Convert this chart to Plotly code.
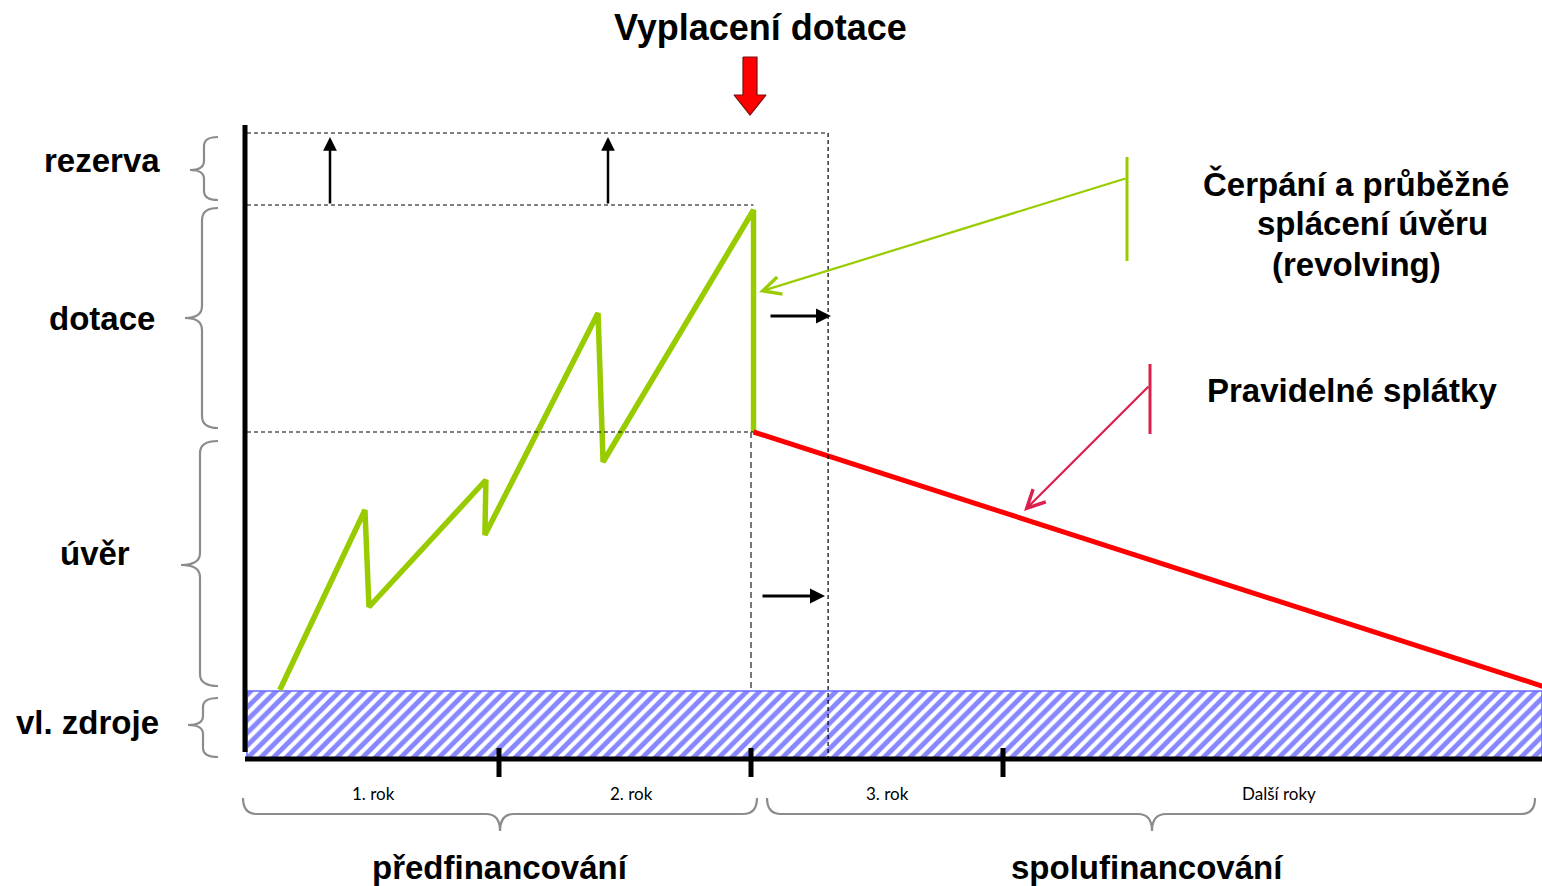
import plotly.graph_objects as go

# ---------------- data (time in years, amount in arbitrary units) ----------------
LEVEL_NAMES = ["vl. zdroje", "úvěr", "dotace", "rezerva"]
LEVEL_TOPS = [6.7, 32.6, 55.3, 62.5]          # cumulative top of each funding layer
YEAR_TICKS = [1, 2, 3]
YEAR_LABELS = ["1. rok", "2. rok", "3. rok", "Další roky"]
YEAR_LABEL_T = [0.5, 1.526, 2.540, 4.095]
PHASE_LABELS = ["předfinancování", "spolufinancování"]
T_PAYOUT = 2.01                               # payout of the subsidy
T_RESERVE_END = 2.306

# revolving drawing / repayment of the loan (green)
REV_T = [0.13, 0.468, 0.484, 0.948, 0.944, 1.393, 1.413, 2.01, 2.01]
REV_A = [6.8, 24.8, 15.1, 27.8, 22.3, 44.5, 29.6, 54.8, 32.6]
# regular instalments (red)
REP_T = [2.01, 5.20]
REP_A = [32.6, 6.7]

# ---------------- layout helpers (pixel placement of decorations) ----------------
W, H = 1542, 886
PX0, PXY = 247, 252     # x pixel of t=0, pixels per year
PY0, PYU = 758, 10      # y pixel of amount 0, pixels per unit


def X(px):
    return (px - PX0) / PXY


def Y(py):
    return (PY0 - py) / PYU


XMIN, XMAX = X(0), X(W)
YMIN, YMAX = Y(H), Y(0)
VZ, UV, DOT, REZ = LEVEL_TOPS

fig = go.Figure()

# own resources: hatched band
fig.add_trace(go.Scatter(
    x=[0, XMAX, XMAX, 0, 0], y=[0, 0, VZ, VZ, 0], mode="lines", fill="toself",
    fillpattern=dict(shape="/", fgcolor="#1010ff", bgcolor="white", size=9, solidity=0.55),
    line=dict(color="#6a6aff", width=1.5), hoverinfo="skip"))

dash_k = dict(color="black", width=1.2, dash="4px,3px")
shapes = []
# dashed guide lines
shapes.append(dict(type="line", x0=0, x1=T_RESERVE_END, y0=REZ, y1=REZ, line=dash_k))
shapes.append(dict(type="line", x0=0, x1=T_PAYOUT, y0=DOT, y1=DOT, line=dash_k))
shapes.append(dict(type="line", x0=0, x1=T_PAYOUT, y0=UV, y1=UV, line=dash_k))
shapes.append(dict(type="line", x0=T_RESERVE_END, x1=T_RESERVE_END, y0=REZ, y1=0, line=dash_k))
shapes.append(dict(type="line", x0=2.0, x1=2.0, y0=UV, y1=VZ,
                   line=dict(color="#555", width=1.6, dash="6px,4px")))

# axes
shapes.append(dict(type="line", x0=X(245), x1=X(245), y0=Y(125), y1=Y(752),
                   line=dict(color="black", width=5)))
shapes.append(dict(type="line", x0=X(245), x1=XMAX, y0=Y(759), y1=Y(759),
                   line=dict(color="black", width=5)))
for t in YEAR_TICKS:
    shapes.append(dict(type="line", x0=t, x1=t, y0=Y(748), y1=Y(777),
                       line=dict(color="black", width=5)))


def path_from_px(cmds):
    out = []
    for c in cmds:
        if isinstance(c, str):
            out.append(c)
        else:
            out.append(f"{X(c[0]):.5f},{Y(c[1]):.5f}")
    return " ".join(out)


def brace_v(x_end, x_mid, x_tip, y_top, y_bot, y_tip, r=10):
    return path_from_px(["M", (x_end, y_top), "Q", (x_mid, y_top), (x_mid, y_top + r),
                         "L", (x_mid, y_tip - r), "Q", (x_mid, y_tip), (x_tip, y_tip),
                         "Q", (x_mid, y_tip), (x_mid, y_tip + r),
                         "L", (x_mid, y_bot - r), "Q", (x_mid, y_bot), (x_end, y_bot)])


def brace_h(x_l, x_r, x_tip, y_end, y_mid, y_tip, r=14):
    return path_from_px(["M", (x_l, y_end), "Q", (x_l, y_mid), (x_l + r, y_mid),
                         "L", (x_tip - r, y_mid), "Q", (x_tip, y_mid), (x_tip, y_tip),
                         "Q", (x_tip, y_mid), (x_tip + r, y_mid),
                         "L", (x_r - r, y_mid), "Q", (x_r, y_mid), (x_r, y_end)])


brace_line = dict(color="#8c8c8c", width=2.2)
for args in [(218, 204, 190, 137, 200, 170, 9), (218, 202, 185, 208, 428, 318, 12),
             (218, 200, 181, 441, 686, 565, 12), (218, 203, 188, 698, 757, 725, 9)]:
    shapes.append(dict(type="path", path=brace_v(*args), line=brace_line))
for args in [(243, 757, 500, 798, 814, 831), (767, 1535, 1152, 798, 814, 831)]:
    shapes.append(dict(type="path", path=brace_h(*args), line=brace_line))

# legend pointer bars
shapes.append(dict(type="line", x0=X(1127), x1=X(1127), y0=Y(157), y1=Y(261),
                   line=dict(color="#99cc00", width=3)))
shapes.append(dict(type="line", x0=X(1150), x1=X(1150), y0=Y(364), y1=Y(434),
                   line=dict(color="#dc1f4b", width=3)))

# big red payout arrow
ra = [(743, 57), (757, 57), (757, 95), (766, 95), (750, 115), (734, 95), (743, 95)]
fig.add_trace(go.Scatter(
    x=[X(p[0]) for p in ra] + [X(ra[0][0])], y=[Y(p[1]) for p in ra] + [Y(ra[0][1])],
    mode="lines", fill="toself", fillcolor="#ff0000",
    line=dict(color="#7a1010", width=1.2), hoverinfo="skip"))

# revolving loan line
fig.add_trace(go.Scatter(x=REV_T, y=REV_A, mode="lines",
                         line=dict(color="#99cc00", width=5.5), hoverinfo="skip"))
# regular instalments
fig.add_trace(go.Scatter(x=REP_T, y=REP_A, mode="lines",
                         line=dict(color="#ff0000", width=5), hoverinfo="skip"))

ann = []


def arrow(x0, y0, x1, y1, color="black", width=3, head=2, size=1.0):
    ann.append(dict(x=x1, y=y1, ax=x0, ay=y0, xref="x", yref="y", axref="x", ayref="y",
                    showarrow=True, arrowhead=head, arrowsize=size, arrowwidth=width,
                    arrowcolor=color, text=""))


# reserve arrows (up)
for px in (330, 608):
    arrow(X(px), DOT, X(px), Y(137), width=2.5, head=2, size=1.1)
# shift arrows (right)
arrow(X(769), Y(316), X(831), Y(316), width=3, head=2, size=1.0)
arrow(X(761), Y(596), X(825), Y(596), width=3, head=2, size=1.0)
# legend pointers
arrow(X(1127), Y(178), X(759), Y(292), color="#99cc00", width=2.2, head=5, size=1.6)
arrow(X(1150), Y(385), X(1024), Y(511), color="#dc1f4b", width=2.2, head=5, size=1.6)

BIG = dict(family="Liberation Sans, Arial, sans-serif", size=33, color="black", weight="bold")
SMALL = dict(family="Lato, Liberation Sans Narrow, sans-serif", size=17, color="#000")


def text(s, px, py, font, anchor="center"):
    ann.append(dict(x=X(px), y=Y(py), xref="x", yref="y", text=s, showarrow=False,
                    font=font, xanchor=anchor, yanchor="middle"))


text("Vyplacení dotace", 760, 27, dict(BIG, size=36))
for name, px, py in zip(LEVEL_NAMES, [87, 95, 102, 102], [722, 553, 318, 160]):
    text(name, px, py, BIG)
text("Čerpání a průběžné", 1356, 184, BIG)
text("splácení úvěru", 1372, 223, BIG)
text("(revolving)", 1356, 264, BIG)
text("Pravidelné splátky", 1352, 390, BIG)

for t, lab in zip(YEAR_LABEL_T, YEAR_LABELS):
    ann.append(dict(x=t, y=Y(793), xref="x", yref="y", text=lab, showarrow=False,
                    font=SMALL, xanchor="center", yanchor="middle"))
text(PHASE_LABELS[0], 500, 867, BIG)
text(PHASE_LABELS[1], 1147, 867, BIG)

fig.update_layout(
    width=W, height=H, margin=dict(l=0, r=0, t=0, b=0),
    paper_bgcolor="white", plot_bgcolor="white", showlegend=False,
    xaxis=dict(range=[XMIN, XMAX], visible=False, fixedrange=True),
    yaxis=dict(range=[YMIN, YMAX], visible=False, fixedrange=True),
    shapes=shapes, annotations=ann)

fig.write_html("out.html", config={"displayModeBar": False},
               post_script="document.body.style.margin='0px';document.body.style.overflow='hidden';")
